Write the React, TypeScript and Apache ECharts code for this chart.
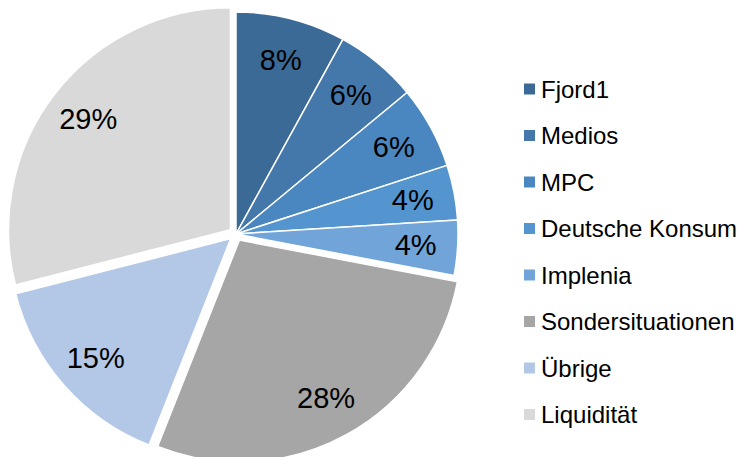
import React, { useEffect, useRef } from "react";
import * as echarts from "echarts";

const categories = ["Fjord1", "Medios", "MPC", "Deutsche Konsum", "Implenia", "Sondersituationen", "Übrige", "Liquidität"];
const values = [8, 6, 6, 4, 4, 28, 15, 29];
const colors = ["#3C6A97", "#4578AA", "#4A86BF", "#5495CF", "#71A5D9", "#A6A6A6", "#B2C8E6", "#D9D9D9"];
const exploded = [false, false, false, false, false, true, true, true];

export default function App() {
  const ref = useRef<HTMLDivElement>(null);
  useEffect(() => {
    if (!ref.current) return;
    const chart = echarts.init(ref.current, null, { renderer: "svg" });
    const font = "'Liberation Sans', Arial, sans-serif";
    const center = [236, 234];
    chart.setOption({
      animation: false,
      backgroundColor: "#ffffff",
      legend: {
        orient: "vertical",
        left: 517,
        top: 72,
        icon: "rect",
        itemWidth: 13,
        itemHeight: 13,
        itemGap: 22.5,
        data: categories,
        selectedMode: false,
        textStyle: { fontFamily: font, fontSize: 24, color: "#000000" },
      },
      series: [
        {
          type: "pie",
          center,
          radius: [0, 222],
          startAngle: 90,
          clockwise: true,
          selectedMode: "multiple",
          selectedOffset: 7,
          label: { show: false },
          labelLine: { show: false },
          emphasis: { disabled: true },
          data: categories.map((name, i) => ({
            name,
            value: values[i],
            selected: exploded[i],
            itemStyle: { color: colors[i], borderColor: "#ffffff", borderWidth: 1.5 },
          })),
        },
        {
          type: "pie",
          center,
          radius: [132, 222],
          startAngle: 90,
          clockwise: true,
          selectedMode: "multiple",
          selectedOffset: 7,
          emphasis: { disabled: true },
          itemStyle: { color: "rgba(0,0,0,0)" },
          label: {
            show: true,
            position: "inside",
            formatter: "{c}%",
            fontFamily: font,
            fontSize: 29,
            color: "#000000",
          },
          labelLine: { show: false },
          data: categories.map((name, i) => ({ name, value: values[i], selected: exploded[i] })),
        },
      ],
    });
    return () => chart.dispose();
  }, []);
  return <div ref={ref} style={{ width: 738, height: 457, position: "absolute", left: 0, top: 0 }} />;
}
